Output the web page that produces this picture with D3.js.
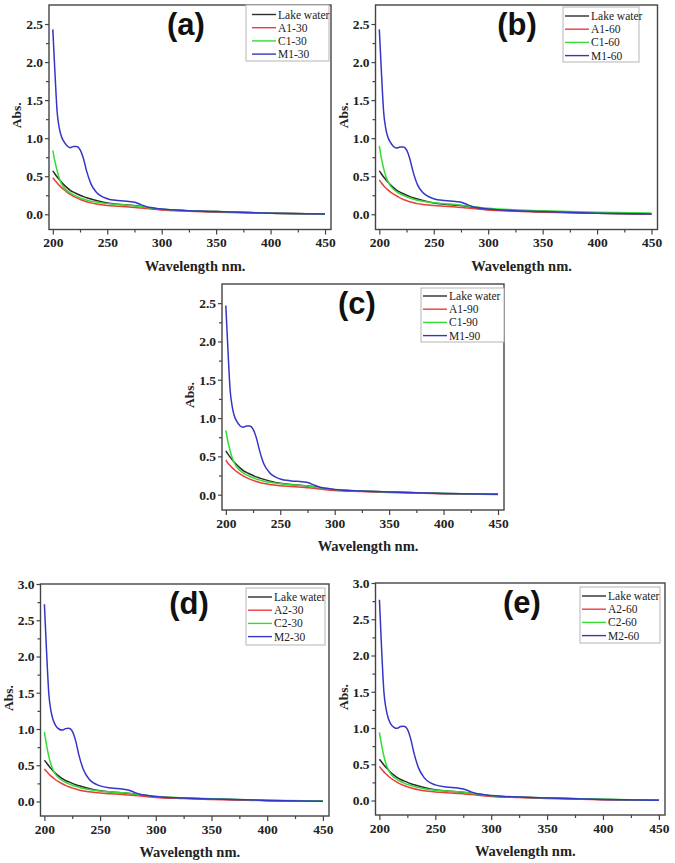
<!DOCTYPE html>
<html>
<head>
<meta charset="utf-8">
<script src="https://cdn.jsdelivr.net/npm/d3@7"></script>
<style>
  body { margin: 0; background: #fff; }
  .tick text { font-family: "Liberation Serif", serif; font-weight: bold; font-size: 13.5px; fill: #222; }
  .tick line { stroke: #444; stroke-width: 1.2; }
  .legend text { font-family: "Liberation Serif", serif; font-size: 11.5px; fill: #222; }
</style>
</head>
<body>
<svg id="chart" width="675" height="863"></svg>
<script>
// wavelength grid (nm) shared by all spectra
var wavelengths = [200, 202, 204, 206, 208, 210, 213, 216, 219, 222, 225, 228, 231, 235, 240, 250, 260, 270, 276, 281, 286, 292, 300, 325, 350, 400, 450];

var lakeWater = [0.57, 0.53, 0.49, 0.455, 0.42, 0.39, 0.35, 0.315, 0.29, 0.27, 0.25, 0.232, 0.218, 0.2, 0.18, 0.148, 0.132, 0.12, 0.112, 0.102, 0.09, 0.077, 0.063, 0.046, 0.035, 0.015, 0.005];

// panel (a)
var a1_30 = [0.48, 0.445, 0.41, 0.38, 0.35, 0.325, 0.29, 0.26, 0.235, 0.215, 0.195, 0.18, 0.165, 0.15, 0.135, 0.115, 0.105, 0.095, 0.09, 0.083, 0.075, 0.065, 0.055, 0.04, 0.028, 0.012, 0.003];
var c1_30 = [0.84, 0.69, 0.57, 0.47, 0.40, 0.355, 0.31, 0.28, 0.255, 0.235, 0.215, 0.2, 0.188, 0.172, 0.16, 0.14, 0.128, 0.118, 0.11, 0.1, 0.09, 0.078, 0.065, 0.047, 0.035, 0.015, 0.005];
var m1_30 = [2.43, 1.85, 1.34, 1.13, 1.02, 0.96, 0.9, 0.875, 0.89, 0.89, 0.85, 0.74, 0.57, 0.40, 0.29, 0.205, 0.18, 0.168, 0.155, 0.125, 0.1, 0.085, 0.068, 0.048, 0.035, 0.015, 0.005];

// panel (b)
var a1_60 = [0.45, 0.41, 0.375, 0.345, 0.32, 0.295, 0.265, 0.24, 0.215, 0.195, 0.18, 0.165, 0.155, 0.14, 0.13, 0.115, 0.105, 0.095, 0.09, 0.083, 0.075, 0.065, 0.055, 0.04, 0.028, 0.012, 0.003];
var c1_60 = [0.9, 0.73, 0.6, 0.5, 0.43, 0.38, 0.33, 0.295, 0.27, 0.25, 0.23, 0.215, 0.2, 0.185, 0.17, 0.15, 0.138, 0.128, 0.12, 0.11, 0.1, 0.09, 0.078, 0.058, 0.045, 0.028, 0.015];
var m1_60 = [2.43, 1.85, 1.34, 1.12, 1.01, 0.95, 0.89, 0.87, 0.885, 0.885, 0.845, 0.73, 0.56, 0.39, 0.285, 0.205, 0.18, 0.168, 0.155, 0.125, 0.1, 0.085, 0.068, 0.048, 0.035, 0.015, 0.005];

// panel (c)
var a1_90 = [0.45, 0.41, 0.38, 0.35, 0.325, 0.3, 0.27, 0.245, 0.222, 0.203, 0.187, 0.172, 0.16, 0.145, 0.133, 0.117, 0.106, 0.096, 0.09, 0.083, 0.075, 0.065, 0.055, 0.04, 0.028, 0.012, 0.003];
var c1_90 = [0.84, 0.69, 0.57, 0.475, 0.41, 0.36, 0.315, 0.283, 0.258, 0.238, 0.22, 0.205, 0.192, 0.176, 0.162, 0.142, 0.13, 0.12, 0.112, 0.102, 0.092, 0.08, 0.066, 0.048, 0.035, 0.015, 0.005];
var m1_90 = [2.47, 1.88, 1.36, 1.14, 1.02, 0.96, 0.9, 0.88, 0.895, 0.895, 0.855, 0.745, 0.575, 0.40, 0.29, 0.205, 0.18, 0.168, 0.155, 0.125, 0.1, 0.085, 0.068, 0.048, 0.035, 0.015, 0.005];

// panel (d)
var a2_30 = [0.45, 0.415, 0.38, 0.35, 0.325, 0.3, 0.27, 0.245, 0.222, 0.203, 0.187, 0.172, 0.16, 0.145, 0.133, 0.117, 0.106, 0.096, 0.09, 0.083, 0.075, 0.065, 0.055, 0.04, 0.028, 0.012, 0.003];
var c2_30 = [0.96, 0.77, 0.62, 0.51, 0.43, 0.375, 0.325, 0.29, 0.265, 0.243, 0.225, 0.21, 0.196, 0.18, 0.165, 0.145, 0.132, 0.122, 0.114, 0.104, 0.094, 0.082, 0.068, 0.05, 0.037, 0.017, 0.006];
var m2_30 = [2.72, 2.05, 1.48, 1.24, 1.12, 1.05, 1.0, 0.985, 1.005, 1.01, 0.97, 0.84, 0.64, 0.44, 0.31, 0.215, 0.185, 0.172, 0.155, 0.125, 0.1, 0.085, 0.068, 0.048, 0.035, 0.015, 0.005];

// panel (e)
var a2_60 = [0.47, 0.43, 0.395, 0.365, 0.335, 0.31, 0.278, 0.25, 0.226, 0.206, 0.19, 0.175, 0.162, 0.147, 0.134, 0.118, 0.107, 0.097, 0.091, 0.084, 0.076, 0.066, 0.056, 0.041, 0.029, 0.012, 0.003];
var c2_60 = [0.94, 0.76, 0.61, 0.5, 0.425, 0.37, 0.32, 0.287, 0.262, 0.24, 0.222, 0.207, 0.194, 0.178, 0.163, 0.143, 0.131, 0.121, 0.113, 0.103, 0.093, 0.081, 0.067, 0.049, 0.036, 0.016, 0.005];
var m2_60 = [2.77, 2.08, 1.50, 1.26, 1.13, 1.06, 1.01, 0.995, 1.02, 1.025, 0.985, 0.85, 0.65, 0.45, 0.315, 0.215, 0.185, 0.172, 0.155, 0.125, 0.1, 0.085, 0.068, 0.048, 0.035, 0.015, 0.005];

var xTicks = [200, 250, 300, 350, 400, 450];
var yTicks25 = [0, 0.5, 1.0, 1.5, 2.0, 2.5];
var yTicks30 = [0, 0.5, 1.0, 1.5, 2.0, 2.5, 3.0];

var colors = ["#2b2b2b", "#ee3b3b", "#33dd33", "#3535c8"];

var panels = [
  { tag: "(a)", names: ["Lake water", "A1-30", "C1-30", "M1-30"], series: [lakeWater, a1_30, c1_30, m1_30],
    box: { l: 49, r: 331, t: 5, b: 229.5 }, yMax: 2.75, yTicks: yTicks25, tagX: 186, leg: { x: 246, y: 5, w: 83, h: 56, lx: 252, ry: 14.5 } },
  { tag: "(b)", names: ["Lake water", "A1-60", "C1-60", "M1-60"], series: [lakeWater, a1_60, c1_60, m1_60],
    box: { l: 375.5, r: 657.5, t: 5, b: 229.5 }, yMax: 2.75, yTicks: yTicks25, tagX: 517, leg: { x: 563, y: 7, w: 76, h: 55, lx: 565, ry: 16 } },
  { tag: "(c)", names: ["Lake water", "A1-90", "C1-90", "M1-90"], series: [lakeWater, a1_90, c1_90, m1_90],
    box: { l: 222, r: 504, t: 284, b: 510 }, yMax: 2.75, yTicks: yTicks25, tagX: 357, leg: { x: 421, y: 288, w: 83, h: 54, lx: 423, ry: 296 } },
  { tag: "(d)", names: ["Lake water", "A2-30", "C2-30", "M2-30"], series: [lakeWater, a2_30, c2_30, m2_30],
    box: { l: 40.5, r: 329, t: 584, b: 816 }, yMax: 3.0, yTicks: yTicks30, tagX: 189, leg: { x: 246, y: 588, w: 79, h: 57, lx: 248, ry: 597 } },
  { tag: "(e)", names: ["Lake water", "A2-60", "C2-60", "M2-60"], series: [lakeWater, a2_60, c2_60, m2_60],
    box: { l: 375.5, r: 665, t: 583, b: 815 }, yMax: 3.0, yTicks: yTicks30, tagX: 522, leg: { x: 580, y: 587, w: 80, h: 56, lx: 582, ry: 596 } }
];

var svg = d3.select("#chart");

panels.forEach(function(p, pi) {
  var box = p.box;
  var x = d3.scaleLinear().domain([196.5, 455.5]).range([box.l, box.r]);
  var y = d3.scaleLinear().domain([-0.2, p.yMax]).range([box.b, box.t]);

  var g = svg.append("g");

  // minor ticks
  var xMinor = d3.range(225, 450, 50);
  var yMinor = d3.range(0.25, p.yMax, 0.5);
  g.append("g")
    .attr("transform", "translate(0," + box.b + ")")
    .call(d3.axisBottom(x).tickValues(xMinor).tickSize(3).tickFormat(""))
    .call(function(s) { s.select(".domain").remove(); });
  g.append("g")
    .attr("transform", "translate(" + box.l + ",0)")
    .call(d3.axisLeft(y).tickValues(yMinor).tickSize(3).tickFormat(""))
    .call(function(s) { s.select(".domain").remove(); });

  // major ticks + labels
  g.append("g")
    .attr("transform", "translate(0," + box.b + ")")
    .call(d3.axisBottom(x).tickValues(xTicks).tickSize(5).tickPadding(3).tickFormat(d3.format("d")))
    .call(function(s) { s.select(".domain").remove(); });
  g.append("g")
    .attr("transform", "translate(" + box.l + ",0)")
    .call(d3.axisLeft(y).tickValues(p.yTicks).tickSize(4).tickPadding(2).tickFormat(d3.format(".1f")))
    .call(function(s) { s.select(".domain").remove(); });

  // clip + lines
  var clipId = "clip" + pi;
  svg.append("clipPath").attr("id", clipId)
    .append("rect")
    .attr("x", box.l).attr("y", box.t)
    .attr("width", box.r - box.l).attr("height", box.b - box.t);

  var line = d3.line()
    .x(function(d) { return x(d[0]); })
    .y(function(d) { return y(d[1]); })
    .curve(d3.curveMonotoneX);

  p.series.forEach(function(vals, si) {
    var pts = wavelengths.map(function(w, i) { return [w, vals[i]]; });
    g.append("path")
      .attr("clip-path", "url(#" + clipId + ")")
      .attr("d", line(pts))
      .attr("fill", "none")
      .attr("stroke", colors[si])
      .attr("stroke-width", 1.5);
  });

  // frame
  g.append("rect")
    .attr("x", box.l).attr("y", box.t)
    .attr("width", box.r - box.l).attr("height", box.b - box.t)
    .attr("fill", "none").attr("stroke", "#444").attr("stroke-width", 1.4);

  // axis titles
  g.append("text")
    .attr("x", (box.l + box.r) / 2 + 5)
    .attr("y", box.b + 41)
    .attr("text-anchor", "middle")
    .style("font-family", "'Liberation Serif', serif")
    .style("font-weight", "bold")
    .style("font-size", "14.5px")
    .attr("fill", "#222")
    .text("Wavelength nm.");

  g.append("text")
    .attr("transform", "translate(" + (box.l - 28) + "," + ((box.t + box.b) / 2 - 2) + ") rotate(-90)")
    .attr("text-anchor", "middle")
    .style("font-family", "'Liberation Serif', serif")
    .style("font-weight", "bold")
    .style("font-size", "13.5px")
    .attr("fill", "#222")
    .text("Abs.");

  // panel tag
  g.append("text")
    .attr("x", p.tagX)
    .attr("y", box.t + 30)
    .attr("text-anchor", "middle")
    .style("font-family", "'Liberation Sans', Arial, sans-serif")
    .style("font-weight", "bold")
    .style("font-size", "31px")
    .attr("fill", "#111")
    .text(p.tag);

  // legend
  var L = p.leg;
  var lg = g.append("g").attr("class", "legend");
  lg.append("rect")
    .attr("x", L.x).attr("y", L.y).attr("width", L.w).attr("height", L.h)
    .attr("fill", "#fff").attr("stroke", "#b5b5b5").attr("stroke-width", 1);
  p.names.forEach(function(name, i) {
    var ry = L.ry + i * 13.2;
    lg.append("line")
      .attr("x1", L.lx).attr("x2", L.lx + 24)
      .attr("y1", ry).attr("y2", ry)
      .attr("stroke", colors[i]).attr("stroke-width", 1.4);
    lg.append("text")
      .attr("x", L.lx + 26)
      .attr("y", ry + 4)
      .text(name);
  });
});
</script>
</body>
</html>
